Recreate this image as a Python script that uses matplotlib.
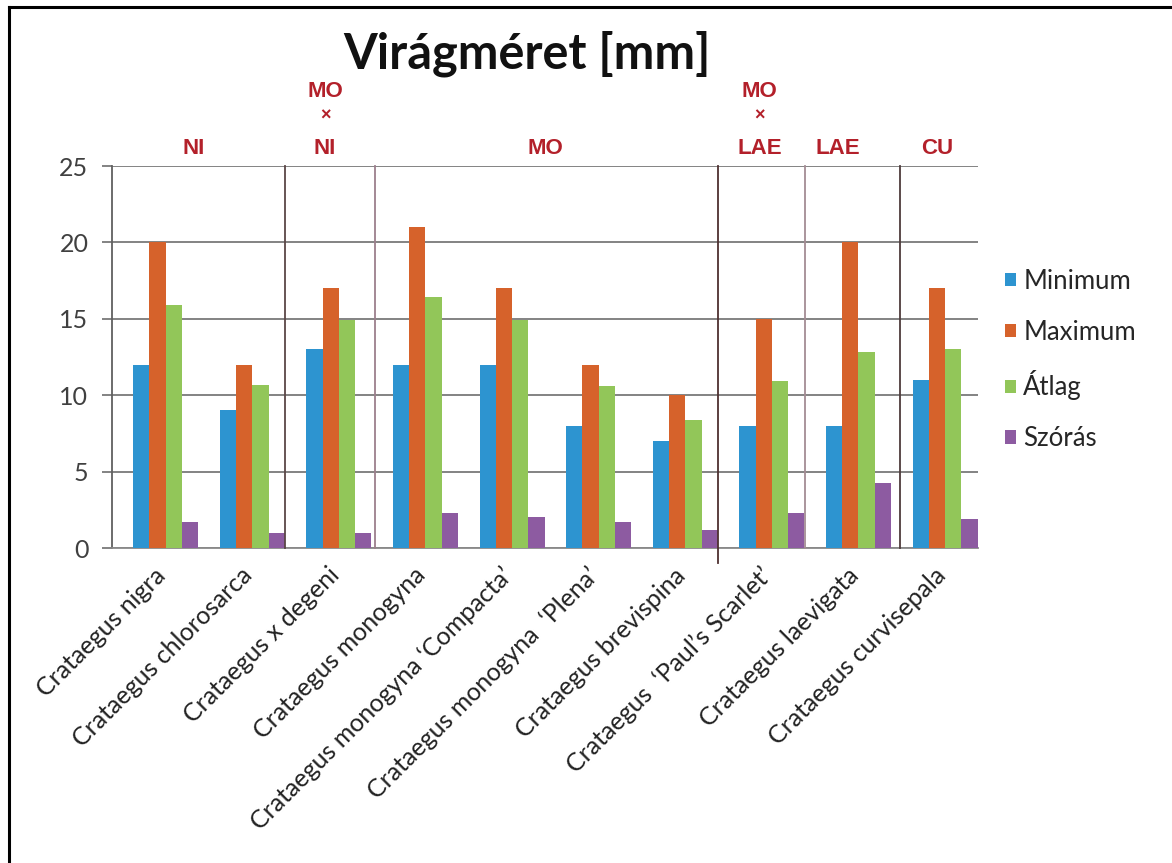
import matplotlib.pyplot as plt
import numpy as np

# Flower size measurements per taxon [mm]
categories = [
    "Crataegus nigra",
    "Crataegus chlorosarca",
    "Crataegus x degeni",
    "Crataegus monogyna",
    "Crataegus monogyna \u2018Compacta\u2019",
    "Crataegus monogyna  \u2018Plena\u2019",
    "Crataegus brevispina",
    "Crataegus  \u2018Paul\u2019s Scarlet\u2019",
    "Crataegus laevigata",
    "Crataegus curvisepala",
]
minimum = [12, 9, 13, 12, 12, 8, 7, 8, 8, 11]
maximum = [20, 12, 17, 21, 17, 12, 10, 15, 20, 17]
atlag = [15.9, 10.7, 14.9, 16.4, 14.9, 10.6, 8.35, 10.9, 12.85, 13.0]
szoras = [1.7, 1.0, 1.0, 2.3, 2.0, 1.7, 1.2, 2.3, 4.25, 1.9]

series_names = ["Minimum", "Maximum", "\u00c1tlag", "Sz\u00f3r\u00e1s"]
series_values = [minimum, maximum, atlag, szoras]
series_colors = ["#2d94d0", "#d6622b", "#92c659", "#8d5ba1"]

# Species-group headers above the plot and the dividers between groups
group_labels = [["NI"], ["MO", "\u00d7", "NI"], ["MO"], ["MO", "\u00d7", "LAE"], ["LAE"], ["CU"]]
group_label_x = [0.32, 1.84, 4.38, 6.86, 7.76, 8.91]
divider_x = [1.38, 2.42, 6.38, 7.38, 8.48]
divider_colors = ["#5a4646", "#9c7f8c", "#4e3030", "#a48c94", "#4e3c3c"]
divider_bottom = [0, 0, -1.0, 0, 0]

W, H = 1172, 863
fig = plt.figure(figsize=(W / 100, H / 100), dpi=100)
ax = fig.add_axes([112 / W, (H - 548) / H, (978 - 112) / W, (548 - 166) / H])

x = np.arange(len(categories))
bw = 0.1875
for k, (name, vals, col) in enumerate(zip(series_names, series_values, series_colors)):
    ax.bar(x + (k - 1.5) * bw, vals, width=bw, color=col, label=name, zorder=3)

ax.set_xlim(-0.62, 9.38)
ax.set_ylim(0, 25)
ax.set_yticks([0, 5, 10, 15, 20, 25])
ax.yaxis.grid(True, color="#7a7a7a", linewidth=1.3, zorder=0)
ax.set_axisbelow(True)

for s in ["top", "right"]:
    ax.spines[s].set_visible(False)
ax.spines["left"].set_color("#606060")
ax.spines["left"].set_linewidth(1.3)
ax.spines["bottom"].set_color("#8a8a8a")
ax.spines["bottom"].set_linewidth(1.3)

ax.tick_params(axis="y", length=7, width=1.3, color="#7a7a7a", pad=10,
               labelsize=18, labelcolor="#404040")
for t in ax.get_yticklabels():
    t.set_family("Lato")

ax.set_xticks(x - 0.04)
ax.set_xticklabels(categories, rotation=45, ha="right", rotation_mode="anchor",
                   va="center", family="Lato", fontsize=18, color="#222222")
ax.tick_params(axis="x", length=0, pad=17)

for dx, dc, db in zip(divider_x, divider_colors, divider_bottom):
    ax.plot([dx, dx], [db, 25], color=dc, linewidth=1.3, zorder=4, clip_on=False)

# Red group headers (stacked lines for hybrids)
red = "#b3202a"
line_y = {1: [26.15], 3: [29.9, 28.3, 26.15]}
for lines, gx in zip(group_labels, group_label_x):
    ys = line_y[len(lines)]
    for txt, yy in zip(lines, ys):
        fs = 13 if txt == "\u00d7" else 16
        ax.text(gx, yy, txt, ha="center", va="center", color=red, fontsize=fs,
                fontweight="bold", family="Liberation Sans", clip_on=False)

fig.text(527 / W, 1 - 54 / H, "Vir\u00e1gm\u00e9ret [mm]", ha="center", va="center",
         fontsize=35, fontweight="bold", family="Lato", color="#111111")

leg = fig.legend(loc="center left", bbox_to_anchor=(992 / W, 1 - 360 / H), frameon=False,
                 prop={"family": "Lato", "size": 18.5}, labelspacing=1.0,
                 handlelength=0.42, handleheight=0.42, handletextpad=0.3, borderpad=0)
for t in leg.get_texts():
    t.set_color("#262626")

# Frame lines on the left and top of the figure
fig.add_artist(plt.Line2D([9 / W, 9 / W], [0, 1 - 7 / H], color="black", linewidth=2.2,
                          transform=fig.transFigure))
fig.add_artist(plt.Line2D([9 / W, 1], [1 - 7 / H, 1 - 7 / H], color="black", linewidth=2.2,
                          transform=fig.transFigure))

fig.savefig("out.png", dpi=100, facecolor="white")
